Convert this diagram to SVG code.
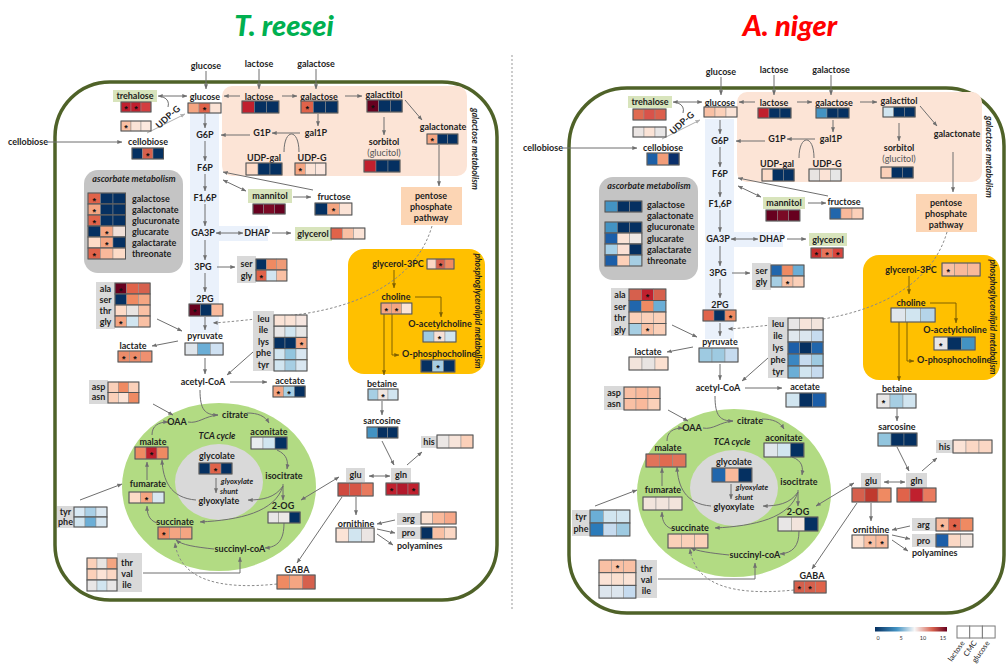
<svg xmlns="http://www.w3.org/2000/svg" width="1006" height="670" viewBox="0 0 1006 670">
<style>
.t{font-family:Lato,"Liberation Sans",sans-serif;font-weight:bold;font-size:9px;fill:#1e1e1e;text-anchor:middle}
.s{text-anchor:start}
.n{font-weight:normal;fill:#555}
.i{font-style:italic}
.sm{font-size:7.5px}
.rl{font-size:8.5px}
.c{fill:none;stroke:#6f6f6f;stroke-width:1;marker-end:url(#ah)}
.dd{marker-start:url(#ah)}
.nm{marker-end:none}
.lt{stroke:#b0b0b0;marker-end:url(#ahl)}
.ds{stroke-dasharray:2.5 2;stroke:#8a8a8a}
.b{stroke:#7f6000;marker-end:url(#ahb)}
.hm rect{stroke:#8c8c8c;stroke-width:.5}
.hm .bd{fill:none;stroke:#555;stroke-width:1}
.st{font-family:"Liberation Sans",sans-serif;font-weight:bold;font-size:9px;fill:#111;text-anchor:middle}
.gb{fill:#d9d9d9}
.gn{fill:#d8e4bc}
.mem{fill:none;stroke:#4f6228;stroke-width:3.5}
.ttl{font-family:Lato,"Liberation Sans",sans-serif;font-weight:900;font-style:italic;font-size:29px;text-anchor:middle}
.lg{font-family:Lato,"Liberation Sans",sans-serif;font-size:5.5px;fill:#333;text-anchor:middle}
.lg2{font-family:Lato,"Liberation Sans",sans-serif;font-size:7.5px;fill:#222;text-anchor:end}
</style>
<defs>
<marker id="ah" viewBox="0 0 8 8" refX="7.5" refY="4" markerWidth="5" markerHeight="5" orient="auto-start-reverse"><path d="M0,0.8 L8,4 L0,7.2z" fill="#6f6f6f"/></marker>
<marker id="ahl" viewBox="0 0 8 8" refX="7.5" refY="4" markerWidth="5" markerHeight="5" orient="auto-start-reverse"><path d="M0,0.8 L8,4 L0,7.2z" fill="#b0b0b0"/></marker>
<marker id="ahb" viewBox="0 0 8 8" refX="7.5" refY="4" markerWidth="5" markerHeight="5" orient="auto-start-reverse"><path d="M0,0.8 L8,4 L0,7.2z" fill="#7f6000"/></marker>
<linearGradient id="cb" x1="0" x2="1" y1="0" y2="0"><stop offset="0" stop-color="#053061"/><stop offset="0.3" stop-color="#4393c3"/><stop offset="0.55" stop-color="#f7f7f7"/><stop offset="0.8" stop-color="#d6604d"/><stop offset="1" stop-color="#67001f"/></linearGradient>
</defs>
<rect width="1006" height="670" fill="#fff"/>
<g id="titles"><text class="ttl" x="284" y="36" fill="#00b050">T. reesei</text><text class="ttl" x="790" y="36" fill="#ff0000">A. niger</text></g>
<g id="separator"><line x1="512" y1="55" x2="512" y2="610" stroke="#999" stroke-width="1" stroke-dasharray="2 2"/></g>

<!-- ===================== T. reesei ===================== -->
<g id="tr">
<g id="tr-membrane"><rect class="mem" x="55" y="82" width="442" height="518" rx="55"/></g>
<g id="tr-galactose-metabolism"><rect x="222" y="86" width="245" height="90" rx="10" fill="#fce4d6"/><text class="t i" transform="translate(475,149) rotate(90)" y="3">galactose metabolism</text></g>
<g id="tr-glycolysis-bg"><rect x="190" y="113" width="29" height="220" fill="#eaf1fb"/><rect x="219" y="226" width="49" height="15" fill="#eaf1fb"/></g>
<g id="tr-phospholipid"><rect x="348" y="249" width="137" height="125" rx="16" fill="#ffc000"/><text class="t i rl" transform="translate(478,311) rotate(90)" y="3">phosphoglycerolipid metabolism</text></g>
<g id="tr-tca"><ellipse cx="219" cy="487" rx="97" ry="84" fill="#b2db83"/><ellipse cx="219" cy="482" rx="44" ry="38" fill="#d9d9d9"/><text class="t i" x="217" y="439">TCA cycle</text><text class="t i sm" x="237" y="484">glyoxylate</text><text class="t i sm" x="229" y="494">shunt</text></g>
<g id="tr-ascorbate"><rect x="84" y="170" width="99" height="103" rx="14" fill="#c4c4c4"/><text class="t i" x="134" y="182.3">ascorbate metabolism</text>
<g class="hm" transform="translate(88,193)"><rect width="12.5" height="11" fill="#e0634a"/><rect x="12.5" width="12.5" height="11" fill="#053061"/><rect x="25" width="12.5" height="11" fill="#053061"/><rect class="bd" width="37.5" height="11"/><text class="st" x="6.25" y="10.5">*</text></g>
<g class="hm" transform="translate(88,204)"><rect width="12.5" height="11" fill="#f4a582"/><rect x="12.5" width="12.5" height="11" fill="#053061"/><rect x="25" width="12.5" height="11" fill="#053061"/><rect class="bd" width="37.5" height="11"/><text class="st" x="6.25" y="10.5">*</text></g>
<g class="hm" transform="translate(88,215)"><rect width="12.5" height="11" fill="#e0634a"/><rect x="12.5" width="12.5" height="11" fill="#053061"/><rect x="25" width="12.5" height="11" fill="#053061"/><rect class="bd" width="37.5" height="11"/><text class="st" x="6.25" y="10.5">*</text></g>
<g class="hm" transform="translate(88,226)"><rect width="12.5" height="11" fill="#053061"/><rect x="12.5" width="12.5" height="11" fill="#f4a582"/><rect x="25" width="12.5" height="11" fill="#f0e0d8"/><rect class="bd" width="37.5" height="11"/><text class="st" x="18.75" y="10.5">*</text></g>
<g class="hm" transform="translate(88,237)"><rect width="12.5" height="11" fill="#fddbc7"/><rect x="12.5" width="12.5" height="11" fill="#f4a582"/><rect x="25" width="12.5" height="11" fill="#053061"/><rect class="bd" width="37.5" height="11"/><text class="st" x="18.75" y="10.5">*</text></g>
<g class="hm" transform="translate(88,248)"><rect width="12.5" height="11" fill="#e0634a"/><rect x="12.5" width="12.5" height="11" fill="#f9b99b"/><rect x="25" width="12.5" height="11" fill="#fddbc7"/><rect class="bd" width="37.5" height="11"/><text class="st" x="6.25" y="10.5">*</text></g>
<text class="t s" x="132" y="201.8">galactose</text><text class="t s" x="132" y="212.8">galactonate</text><text class="t s" x="132" y="223.8">glucuronate</text><text class="t s" x="132" y="234.8">glucarate</text><text class="t s" x="132" y="245.8">galactarate</text><text class="t s" x="132" y="256.8">threonate</text>
</g>

<g id="tr-connectors">
<path class="c" d="M206,71 V89"/><path class="c" d="M259,69 V89"/><path class="c" d="M316,69 V89"/>
<path class="c" d="M48,142 H122"/>
<path class="c dd" d="M158,96 H187"/>
<path class="c nm" d="M163,97 q7,3 5,10"/>
<path class="c lt" d="M147,133 L185,114"/>
<path class="c" d="M240,96 H224"/><path class="c" d="M282,96 H297"/><path class="c" d="M345,96 H362"/>
<path class="c" d="M405,100 L422,120"/><path class="c" d="M384,117 V135"/><path class="c" d="M318,114 V126"/>
<path class="c" d="M300,133 H272"/><path class="c" d="M250,135 H221"/>
<path class="c nm" d="M284,152 C284,128 299,128 299,152"/>
<path class="c" d="M205,114 V128"/><path class="c" d="M205,141 V161"/><path class="c" d="M205,174 V191"/><path class="c" d="M205,204 V226"/><path class="c" d="M205,240 V260"/><path class="c" d="M205,273 V292"/><path class="c" d="M205,317 V330"/><path class="c" d="M205,358 V374"/>
<path class="c dd" d="M223,180 L246,191"/><path class="c" d="M313,190 L223,172"/>
<path class="c" d="M293,197 H311"/><path class="c" d="M439,145 V186"/>
<path class="c dd" d="M216,233 H243"/><path class="c" d="M272,233 H291"/><path class="c" d="M217,267 H235"/>
<path class="c" d="M157,319 L182,331"/><path class="c" d="M178,341 L152,346"/>
<path class="c" d="M230,382 H267"/><path class="c" d="M253,352 L227,375"/>
<path class="c ds" d="M432,226 C415,285 350,310 285,316 C255,319 230,322 213,323"/>
<path class="c b" d="M394,270 V288"/><path class="c b" d="M415,297 H441 V317"/><path class="c b" d="M392,314 V355 H399"/><path class="c b" d="M384,314 V375"/>
<path class="c" d="M382,401 V415"/><path class="c" d="M382,441 L394,465"/><path class="c" d="M407,465 L422,452"/>
<path class="c dd" d="M369,476 H390"/><path class="c dd" d="M339,477 L301,500"/><path class="c" d="M342,497 L297,563"/>
<path class="c" d="M356,497 V515"/><path class="c" d="M395,520 L377,524"/><path class="c" d="M377,529 L395,533"/><path class="c" d="M377,534 L393,545"/>
<path class="c" d="M153,404 L173,415"/>
<path class="c" d="M200,390 C200,410 205,415 218,415"/><path class="c nm" d="M188,422 C198,424 205,416 218,415"/>
<path class="c" d="M247,413 C258,413 265,416 269,423"/><path class="c" d="M277,450 C288,455 288,462 287,469"/>
<path class="c" d="M283,484 V500"/><path class="c" d="M283,486 C275,498 262,500 248,500"/><path class="c" d="M283,486 C275,512 240,520 200,522"/>
<path class="c" d="M284,523 C284,540 278,547 265,548"/><path class="c" d="M214,549 C195,547 182,545 176,540"/>
<path class="c" d="M143,573 H240 V557"/>
<path class="c ds" d="M277,584 C220,590 180,580 175,543"/>
<path class="c" d="M196,500 C170,498 163,480 162,460"/><path class="c" d="M216,478 V493"/>
<path class="c" d="M152,435 C152,426 158,422 168,422"/><path class="c" d="M147,480 V462"/>
<path class="c" d="M157,523 C148,520 147,512 147,506"/><path class="c" d="M80,500 L122,484"/>
</g>

<g id="tr-glucose-ext"><text class="t" x="206" y="68.5">glucose</text></g>
<g id="tr-lactose-ext"><text class="t" x="259" y="66.5">lactose</text></g>
<g id="tr-galactose-ext"><text class="t" x="316" y="66.5">galactose</text></g>
<g id="tr-cellobiose-ext"><text class="t" x="28" y="145.3">cellobiose</text></g>
<g id="tr-glucose"><text class="t" x="205" y="99.5">glucose</text><g class="hm" transform="translate(188,103)"><rect width="11" height="10" fill="#f4a582"/><rect x="11" width="11" height="10" fill="#e0634a"/><rect x="22" width="11" height="10" fill="#fbe3d6"/><rect class="bd" width="33" height="10"/><text class="st" x="16.5" y="10">*</text></g></g>
<g id="tr-trehalose"><rect class="gn" x="113" y="90" width="44" height="12"/><text class="t" x="135" y="99.3">trehalose</text>
<g class="hm" transform="translate(121,102)"><rect width="10" height="10" fill="#c0202e"/><rect x="10" width="10" height="10" fill="#c0202e"/><rect x="20" width="10" height="10" fill="#d33d40"/><rect class="bd" width="30" height="10"/><text class="st" x="5" y="10">*</text><text class="st" x="15" y="10">*</text></g>
<g class="hm" transform="translate(121,121)"><rect width="10" height="10" fill="#f9c0a4"/><rect x="10" width="10" height="10" fill="#fbe3d6"/><rect x="20" width="10" height="10" fill="#fde9df"/><rect class="bd" width="30" height="10"/><text class="st" x="5" y="10">*</text></g>
<text class="t" transform="translate(168,117) rotate(-42)" y="3">UDP-G</text></g>
<g id="tr-cellobiose"><text class="t" x="148" y="145.3">cellobiose</text><g class="hm" transform="translate(132,148)"><rect width="10.5" height="11" fill="#053061"/><rect x="10.5" width="10.5" height="11" fill="#d6604d"/><rect x="21" width="10.5" height="11" fill="#053061"/><rect class="bd" width="31.5" height="11"/><text class="st" x="15.75" y="10.5">*</text></g></g>
<g id="tr-G6P"><text class="t" x="205" y="138.3">G6P</text></g>
<g id="tr-F6P"><text class="t" x="205" y="171.3">F6P</text></g>
<g id="tr-F16P"><text class="t" x="205" y="201.3">F1,6P</text></g>
<g id="tr-GA3P"><text class="t" x="203" y="236.3">GA3P</text></g>
<g id="tr-DHAP"><text class="t" x="257" y="236.3">DHAP</text></g>
<g id="tr-3PG"><text class="t" x="203" y="270.3">3PG</text></g>
<g id="tr-2PG"><text class="t" x="205" y="302.3">2PG</text><g class="hm" transform="translate(189,304)"><rect width="11.3" height="12" fill="#67001f"/><rect x="11.3" width="11.3" height="12" fill="#053061"/><rect x="22.6" width="11.3" height="12" fill="#f9b99b"/><rect class="bd" width="33.9" height="12"/><text class="st" x="5.65" y="11">*</text></g></g>
<g id="tr-lactose"><text class="t" x="259" y="100">lactose</text><g class="hm" transform="translate(242,101)"><rect width="12.3" height="12" fill="#c0202e"/><rect x="12.3" width="12.3" height="12" fill="#053061"/><rect x="24.6" width="12.3" height="12" fill="#053061"/><rect class="bd" width="36.9" height="12"/></g></g>
<g id="tr-galactose"><text class="t" x="319" y="100">galactose</text><g class="hm" transform="translate(301,101)"><rect width="12.3" height="12" fill="#e0634a"/><rect x="12.3" width="12.3" height="12" fill="#053061"/><rect x="24.6" width="12.3" height="12" fill="#053061"/><rect class="bd" width="36.9" height="12"/><text class="st" x="6.15" y="11">*</text></g></g>
<g id="tr-galactitol"><text class="t" x="384" y="98.3">galactitol</text><g class="hm" transform="translate(367,100)"><rect width="11.7" height="12" fill="#67001f"/><rect x="11.7" width="11.7" height="12" fill="#053061"/><rect x="23.4" width="11.7" height="12" fill="#053061"/><rect class="bd" width="35.1" height="12"/><text class="st" x="5.85" y="11">*</text></g></g>
<g id="tr-galactonate"><text class="t" x="443" y="130.3">galactonate</text><g class="hm" transform="translate(427,134)"><rect width="10.3" height="10" fill="#f4a582"/><rect x="10.3" width="10.3" height="10" fill="#053061"/><rect x="20.6" width="10.3" height="10" fill="#053061"/><rect class="bd" width="30.9" height="10"/><text class="st" x="5.15" y="10">*</text></g></g>
<g id="tr-sorbitol"><text class="t" x="384" y="145.3">sorbitol</text><text class="t n" x="384" y="156.3">(glucitol)</text><g class="hm" transform="translate(364,160)"><rect width="12" height="12" fill="#c0202e"/><rect x="12" width="12" height="12" fill="#053061"/><rect x="24" width="12" height="12" fill="#053061"/><rect class="bd" width="36" height="12"/></g></g>
<g id="tr-gal1P"><text class="t" x="316" y="136.3">gal1P</text></g>
<g id="tr-G1P"><text class="t" x="262" y="136.3">G1P</text></g>
<g id="tr-UDPgal"><text class="t" x="264" y="161.3">UDP-gal</text><g class="hm" transform="translate(246,163)"><rect width="12" height="12" fill="#fddbc7"/><rect x="12" width="12" height="12" fill="#053061"/><rect x="24" width="12" height="12" fill="#053061"/><rect class="bd" width="36" height="12"/></g></g>
<g id="tr-UDPG"><text class="t" x="312" y="161.3">UDP-G</text><g class="hm" transform="translate(295,163)"><rect width="10.3" height="12" fill="#f4a582"/><rect x="10.3" width="10.3" height="12" fill="#fbe3d6"/><rect x="20.6" width="10.3" height="12" fill="#fbe6dd"/><rect class="bd" width="30.9" height="12"/><text class="st" x="5.15" y="11">*</text></g></g>
<g id="tr-mannitol"><rect class="gn" x="248" y="189" width="44" height="14"/><text class="t" x="270" y="199.3">mannitol</text><g class="hm" transform="translate(253,204)"><rect width="10.7" height="10" fill="#67001f"/><rect x="10.7" width="10.7" height="10" fill="#7a0a25"/><rect x="21.4" width="10.7" height="10" fill="#67001f"/><rect class="bd" width="32.1" height="10"/></g></g>
<g id="tr-fructose"><text class="t" x="334" y="200.3">fructose</text><g class="hm" transform="translate(315,203)"><rect width="12.3" height="12" fill="#053061"/><rect x="12.3" width="12.3" height="12" fill="#f4a582"/><rect x="24.6" width="12.3" height="12" fill="#fbe3d6"/><rect class="bd" width="36.9" height="12"/><text class="st" x="18.45" y="11">*</text></g></g>
<g id="tr-pentose"><rect x="401" y="187" width="61" height="38" fill="#fcd5b4"/><text class="t" x="431" y="199.3">pentose</text><text class="t" x="431" y="210.3">phosphate</text><text class="t" x="431" y="221.3">pathway</text></g>
<g id="tr-glycerol"><rect class="gn" x="295" y="227" width="37" height="14"/><text class="t" x="313" y="237.3">glycerol</text><g class="hm" transform="translate(331,228)"><rect width="11.3" height="11" fill="#e0634a"/><rect x="11.3" width="11.3" height="11" fill="#f9c0a4"/><rect x="22.6" width="11.3" height="11" fill="#fbe3d6"/><rect class="bd" width="33.9" height="11"/></g></g>
<g id="tr-sergly"><rect class="gb" x="237" y="256" width="19" height="27"/><text class="t" x="246.5" y="267.3">ser</text><text class="t" x="246.5" y="279.3">gly</text>
<g class="hm" transform="translate(256,259)"><rect width="10.3" height="11" fill="#053061"/><rect x="10.3" width="10.3" height="11" fill="#ef8a62"/><rect x="20.6" width="10.3" height="11" fill="#ef9a76"/><rect class="bd" width="30.9" height="11"/></g>
<g class="hm" transform="translate(256,270)"><rect width="10.3" height="11" fill="#e0634a"/><rect x="10.3" width="10.3" height="11" fill="#d1e5f0"/><rect x="20.6" width="10.3" height="11" fill="#f9c0a4"/><rect class="bd" width="30.9" height="11"/><text class="st" x="5.15" y="10.5">*</text></g></g>
<g id="tr-alaserthrgly"><rect class="gb" x="96" y="282" width="19" height="47"/><text class="t" x="105.5" y="291.8">ala</text><text class="t" x="105.5" y="302.8">ser</text><text class="t" x="105.5" y="313.8">thr</text><text class="t" x="105.5" y="324.8">gly</text>
<g class="hm" transform="translate(115,283)"><rect width="11.7" height="11" fill="#67001f"/><rect x="11.7" width="11.7" height="11" fill="#e0634a"/><rect x="23.4" width="11.7" height="11" fill="#d6604d"/><rect class="bd" width="35.1" height="11"/><text class="st" x="5.85" y="10.5">*</text></g>
<g class="hm" transform="translate(115,294)"><rect width="11.7" height="11" fill="#053061"/><rect x="11.7" width="11.7" height="11" fill="#ef8a62"/><rect x="23.4" width="11.7" height="11" fill="#f4a582"/><rect class="bd" width="35.1" height="11"/></g>
<g class="hm" transform="translate(115,305)"><rect width="11.7" height="11" fill="#fddbc7"/><rect x="11.7" width="11.7" height="11" fill="#e8e4e2"/><rect x="23.4" width="11.7" height="11" fill="#f9c0a4"/><rect class="bd" width="35.1" height="11"/></g>
<g class="hm" transform="translate(115,316)"><rect width="11.7" height="11" fill="#f4a582"/><rect x="11.7" width="11.7" height="11" fill="#d1e5f0"/><rect x="23.4" width="11.7" height="11" fill="#f9c0a4"/><rect class="bd" width="35.1" height="11"/><text class="st" x="5.85" y="10.5">*</text></g></g>
<g id="tr-pyruvate"><text class="t" x="205" y="339.3">pyruvate</text><g class="hm" transform="translate(185,343)"><rect width="12.7" height="12" fill="#dfe5eb"/><rect x="12.7" width="12.7" height="12" fill="#6baed6"/><rect x="25.4" width="12.7" height="12" fill="#cfe1f2"/><rect class="bd" width="38.1" height="12"/></g></g>
<g id="tr-lactate"><text class="t" x="133" y="349.3">lactate</text><g class="hm" transform="translate(118,351)"><rect width="11.3" height="11" fill="#ec8c6a"/><rect x="11.3" width="11.3" height="11" fill="#ec8c6a"/><rect x="22.6" width="11.3" height="11" fill="#ef9070"/><rect class="bd" width="33.9" height="11"/><text class="st" x="5.65" y="10.5">*</text><text class="st" x="16.95" y="10.5">*</text></g></g>
<g id="tr-acetylCoA"><text class="t" x="203" y="385.3">acetyl-CoA</text></g>
<g id="tr-acetate"><text class="t" x="290" y="384.3">acetate</text><g class="hm" transform="translate(273,386)"><rect width="10.7" height="11" fill="#f4a582"/><rect x="10.7" width="10.7" height="11" fill="#a6cee3"/><rect x="21.4" width="10.7" height="11" fill="#053061"/><rect class="bd" width="32.1" height="11"/><text class="st" x="5.35" y="10.5">*</text><text class="st" x="16.05" y="10.5">*</text></g></g>
<g id="tr-leu"><rect class="gb" x="253" y="311" width="21" height="60"/><text class="t" x="263.5" y="322.3">leu</text><text class="t" x="263.5" y="333.3">ile</text><text class="t" x="263.5" y="345.3">lys</text><text class="t" x="263.5" y="356.3">phe</text><text class="t" x="263.5" y="368.3">tyr</text>
<g class="hm" transform="translate(274,315)"><rect width="11" height="11.2" fill="#fbe3d6"/><rect x="11" width="11" height="11.2" fill="#fbe3d6"/><rect x="22" width="11" height="11.2" fill="#f6e6e0"/><rect class="bd" width="33" height="11.2"/></g>
<g class="hm" transform="translate(274,326.2)"><rect width="11" height="11.2" fill="#e8e6e6"/><rect x="11" width="11" height="11.2" fill="#d1e5f0"/><rect x="22" width="11" height="11.2" fill="#e6e6e6"/><rect class="bd" width="33" height="11.2"/></g>
<g class="hm" transform="translate(274,337.4)"><rect width="11" height="11.2" fill="#053061"/><rect x="11" width="11" height="11.2" fill="#053061"/><rect x="22" width="11" height="11.2" fill="#f4a582"/><rect class="bd" width="33" height="11.2"/><text class="st" x="27.5" y="10.6">*</text></g>
<g class="hm" transform="translate(274,348.6)"><rect width="11" height="11.2" fill="#d1e5f0"/><rect x="11" width="11" height="11.2" fill="#92c5de"/><rect x="22" width="11" height="11.2" fill="#d9e7f1"/><rect class="bd" width="33" height="11.2"/></g>
<g class="hm" transform="translate(274,359.8)"><rect width="11" height="11.2" fill="#d1e5f0"/><rect x="11" width="11" height="11.2" fill="#a6cee3"/><rect x="22" width="11" height="11.2" fill="#d9e7f1"/><rect class="bd" width="33" height="11.2"/></g></g>
<g id="tr-glycerol3PC"><text class="t" x="398" y="267.3">glycerol-3PC</text><g class="hm" transform="translate(427,259)"><rect width="9" height="10" fill="#fbd7c4"/><rect x="9" width="9" height="10" fill="#d6604d"/><rect x="18" width="9" height="10" fill="#ef8a62"/><rect class="bd" width="27" height="10"/><text class="st" x="13.5" y="10">*</text></g></g>
<g id="tr-choline"><text class="t" x="396" y="300.3">choline</text><g class="hm" transform="translate(381,303)"><rect width="10.3" height="11" fill="#f4a582"/><rect x="10.3" width="10.3" height="11" fill="#f4a582"/><rect x="20.6" width="10.3" height="11" fill="#fbe3d6"/><rect class="bd" width="30.9" height="11"/><text class="st" x="5.15" y="10.5">*</text><text class="st" x="15.45" y="10.5">*</text></g></g>
<g id="tr-Oacetylcholine"><text class="t" x="440" y="327.3">O-acetylcholine</text><g class="hm" transform="translate(423,331)"><rect width="11" height="11" fill="#9ecae1"/><rect x="11" width="11" height="11" fill="#f7e0d6"/><rect x="22" width="11" height="11" fill="#d1e5f0"/><rect class="bd" width="33" height="11"/><text class="st" x="16.5" y="10.5">*</text></g></g>
<g id="tr-Ophosphocholine"><text class="t s" x="402" y="357.3">O-phosphocholine</text><g class="hm" transform="translate(421,360)"><rect width="11.3" height="12" fill="#053061"/><rect x="11.3" width="11.3" height="12" fill="#a6cee3"/><rect x="22.6" width="11.3" height="12" fill="#053061"/><rect class="bd" width="33.9" height="12"/><text class="st" x="16.95" y="11">*</text></g></g>
<g id="tr-betaine"><text class="t" x="382" y="387.3">betaine</text><g class="hm" transform="translate(368,389)"><rect width="10" height="11" fill="#a6cee3"/><rect x="10" width="10" height="11" fill="#f0e6e0"/><rect x="20" width="10" height="11" fill="#d1e5f0"/><rect class="bd" width="30" height="11"/><text class="st" x="15" y="10.5">*</text></g></g>
<g id="tr-sarcosine"><text class="t" x="382" y="424.3">sarcosine</text><g class="hm" transform="translate(367,427)"><rect width="10.3" height="11" fill="#4393c3"/><rect x="10.3" width="10.3" height="11" fill="#053061"/><rect x="20.6" width="10.3" height="11" fill="#053061"/><rect class="bd" width="30.9" height="11"/></g></g>
<g id="tr-gln"><rect class="gb" x="391" y="468" width="20" height="14"/><text class="t" x="401" y="478.3">gln</text><g class="hm" transform="translate(386,483)"><rect width="11" height="12" fill="#c0202e"/><rect x="11" width="11" height="12" fill="#b2182b"/><rect x="22" width="11" height="12" fill="#c0202e"/><rect class="bd" width="33" height="12"/><text class="st" x="5.5" y="11">*</text><text class="st" x="27.5" y="11">*</text></g></g>
<g id="tr-his"><rect class="gb" x="421" y="436" width="16" height="12"/><text class="t" x="429" y="445.3">his</text><g class="hm" transform="translate(437,435)"><rect width="12" height="13" fill="#ebe7e5"/><rect x="12" width="12" height="13" fill="#f7e4da"/><rect x="24" width="12" height="13" fill="#fbd0b9"/><rect class="bd" width="36" height="13"/></g></g>
<g id="tr-glu"><rect class="gb" x="346" y="468" width="19" height="14"/><text class="t" x="355.5" y="478.3">glu</text><g class="hm" transform="translate(338,483)"><rect width="11.7" height="13" fill="#d04a40"/><rect x="11.7" width="11.7" height="13" fill="#d65545"/><rect x="23.4" width="11.7" height="13" fill="#e87a5e"/><rect class="bd" width="35.1" height="13"/></g></g>
<g id="tr-ornithine"><text class="t" x="356" y="527">ornithine</text><g class="hm" transform="translate(336,528)"><rect width="12.7" height="14" fill="#fbe3d6"/><rect x="12.7" width="12.7" height="14" fill="#d1e5f0"/><rect x="25.4" width="12.7" height="14" fill="#ebe5e3"/><rect class="bd" width="38.1" height="14"/></g></g>
<g id="tr-arg"><rect class="gb" x="397" y="513" width="24" height="12"/><text class="t" x="408.5" y="522.3">arg</text><g class="hm" transform="translate(421,512)"><rect width="11.7" height="12" fill="#fbe0d0"/><rect x="11.7" width="11.7" height="12" fill="#f9b99b"/><rect x="23.4" width="11.7" height="12" fill="#f7a889"/><rect class="bd" width="35.1" height="12"/></g></g>
<g id="tr-pro"><rect class="gb" x="397" y="527" width="24" height="12"/><text class="t" x="408.5" y="536.3">pro</text><g class="hm" transform="translate(421,527)"><rect width="11.7" height="12" fill="#053061"/><rect x="11.7" width="11.7" height="12" fill="#f9c0a4"/><rect x="23.4" width="11.7" height="12" fill="#fbd7c4"/><rect class="bd" width="35.1" height="12"/></g></g>
<g id="tr-polyamines"><text class="t s" x="397" y="549.3">polyamines</text></g>
<g id="tr-GABA"><text class="t" x="297" y="573.3">GABA</text><g class="hm" transform="translate(277,575)"><rect width="12.7" height="14" fill="#ef8a62"/><rect x="12.7" width="12.7" height="14" fill="#f4a582"/><rect x="25.4" width="12.7" height="14" fill="#d6604d"/><rect class="bd" width="38.1" height="14"/></g></g>
<g id="tr-OAA"><text class="t" x="177" y="425.3">OAA</text></g>
<g id="tr-citrate"><text class="t" x="235" y="418.3">citrate</text></g>
<g id="tr-aconitate"><text class="t" x="269" y="435.3">aconitate</text><g class="hm" transform="translate(251,437)"><rect width="12" height="12" fill="#e8ecef"/><rect x="12" width="12" height="12" fill="#d1e5f0"/><rect x="24" width="12" height="12" fill="#053061"/><rect class="bd" width="36" height="12"/></g></g>
<g id="tr-isocitrate"><text class="t" x="284" y="479.3">isocitrate</text></g>
<g id="tr-2OG"><text class="t" x="283" y="509.3">2-OG</text><g class="hm" transform="translate(268,512)"><rect width="10.7" height="11" fill="#e8e6e6"/><rect x="10.7" width="10.7" height="11" fill="#ece8e6"/><rect x="21.4" width="10.7" height="11" fill="#053061"/><rect class="bd" width="32.1" height="11"/></g></g>
<g id="tr-succinylcoA"><text class="t" x="240" y="552.3">succinyl-coA</text></g>
<g id="tr-succinate"><text class="t" x="175" y="525.3">succinate</text><g class="hm" transform="translate(158,527)"><rect width="11.3" height="12" fill="#ef8a62"/><rect x="11.3" width="11.3" height="12" fill="#f4a582"/><rect x="22.6" width="11.3" height="12" fill="#f4a582"/><rect class="bd" width="33.9" height="12"/><text class="st" x="5.65" y="11">*</text></g></g>
<g id="tr-fumarate"><text class="t" x="148" y="487.3">fumarate</text><g class="hm" transform="translate(129,492)"><rect width="11.7" height="11" fill="#fddbc7"/><rect x="11.7" width="11.7" height="11" fill="#f4a582"/><rect x="23.4" width="11.7" height="11" fill="#d9e7f1"/><rect class="bd" width="35.1" height="11"/><text class="st" x="17.55" y="10.5">*</text></g></g>
<g id="tr-malate"><text class="t" x="153" y="445.3">malate</text><g class="hm" transform="translate(135,447)"><rect width="11" height="12" fill="#ef8a62"/><rect x="11" width="11" height="12" fill="#c0202e"/><rect x="22" width="11" height="12" fill="#ef8a62"/><rect class="bd" width="33" height="12"/><text class="st" x="16.5" y="11">*</text></g></g>
<g id="tr-glycolate"><text class="t" x="217" y="459.3">glycolate</text><g class="hm" transform="translate(199,463)"><rect width="11" height="11" fill="#053061"/><rect x="11" width="11" height="11" fill="#e0634a"/><rect x="22" width="11" height="11" fill="#053061"/><rect class="bd" width="33" height="11"/><text class="st" x="16.5" y="10.5">*</text></g></g>
<g id="tr-glyoxylate"><text class="t" x="219" y="504.3">glyoxylate</text></g>
<g id="tr-aspasn"><rect class="gb" x="89" y="380" width="19" height="24"/><text class="t" x="98.5" y="389.8">asp</text><text class="t" x="98.5" y="400.3">asn</text>
<g class="hm" transform="translate(108,382)"><rect width="10.3" height="10.5" fill="#fbd0b9"/><rect x="10.3" width="10.3" height="10.5" fill="#ef8a62"/><rect x="20.6" width="10.3" height="10.5" fill="#fbd0b9"/><rect class="bd" width="30.9" height="10.5"/></g>
<g class="hm" transform="translate(108,392.5)"><rect width="10.3" height="10.5" fill="#fbd0b9"/><rect x="10.3" width="10.3" height="10.5" fill="#fbe3d6"/><rect x="20.6" width="10.3" height="10.5" fill="#ef8a62"/><rect class="bd" width="30.9" height="10.5"/></g></g>
<g id="tr-tyrphe"><rect class="gb" x="57" y="506" width="17" height="22"/><text class="t" x="65.5" y="515.3">tyr</text><text class="t" x="65.5" y="525.3">phe</text>
<g class="hm" transform="translate(74,507)"><rect width="11" height="10" fill="#d9e9f4"/><rect x="11" width="11" height="10" fill="#a9cfe6"/><rect x="22" width="11" height="10" fill="#dce8f1"/><rect class="bd" width="33" height="10"/></g>
<g class="hm" transform="translate(74,517)"><rect width="11" height="10" fill="#d1e5f0"/><rect x="11" width="11" height="10" fill="#6baed6"/><rect x="22" width="11" height="10" fill="#d6e6f1"/><rect class="bd" width="33" height="10"/></g></g>
<g id="tr-thrvalile"><rect class="gb" x="117" y="553" width="25" height="39"/><text class="t" x="127" y="566">thr</text><text class="t" x="127" y="577">val</text><text class="t" x="127" y="588">ile</text>
<g class="hm" transform="translate(87,558)"><rect width="10" height="11" fill="#fbd0b9"/><rect x="10" width="10" height="11" fill="#e8e4e2"/><rect x="20" width="10" height="11" fill="#f4a582"/><rect class="bd" width="30" height="11"/></g>
<g class="hm" transform="translate(87,569)"><rect width="10" height="11" fill="#fbd0b9"/><rect x="10" width="10" height="11" fill="#fbe3d6"/><rect x="20" width="10" height="11" fill="#fbd7c4"/><rect class="bd" width="30" height="11"/></g>
<g class="hm" transform="translate(87,580)"><rect width="10" height="11" fill="#e8e6e6"/><rect x="10" width="10" height="11" fill="#d1e5f0"/><rect x="20" width="10" height="11" fill="#e8e6e6"/><rect class="bd" width="30" height="11"/></g></g>
</g>

<!-- ===================== A. niger ===================== -->
<g id="an" transform="translate(515,6)">
<g id="an-membrane"><rect class="mem" x="54" y="82" width="435" height="525" rx="58"/></g>
<g id="an-galactose-metabolism"><rect x="222" y="86" width="245" height="90" rx="10" fill="#fce4d6"/><text class="t i" transform="translate(474,151) rotate(90)" y="3">galactose metabolism</text></g>
<g id="an-glycolysis-bg"><rect x="190" y="113" width="29" height="220" fill="#eaf1fb"/><rect x="219" y="226" width="49" height="15" fill="#eaf1fb"/></g>
<g id="an-phospholipid"><rect x="348" y="249" width="137" height="125" rx="16" fill="#ffc000"/><text class="t i rl" transform="translate(478,311) rotate(90)" y="3">phosphoglycerolipid metabolism</text></g>
<g id="an-tca"><ellipse cx="219" cy="487" rx="97" ry="84" fill="#b2db83"/><ellipse cx="219" cy="482" rx="44" ry="38" fill="#d9d9d9"/><text class="t i" x="217" y="439">TCA cycle</text><text class="t i sm" x="237" y="484">glyoxylate</text><text class="t i sm" x="229" y="494">shunt</text></g>
<g id="an-ascorbate"><rect x="84" y="171" width="99" height="103" rx="14" fill="#c4c4c4"/><text class="t i" x="134" y="183.3">ascorbate metabolism</text>
<g class="hm" transform="translate(90,195)"><rect width="12.3" height="11" fill="#4393c3"/><rect x="12.3" width="12.3" height="11" fill="#053061"/><rect x="24.6" width="12.3" height="11" fill="#053061"/><rect class="bd" width="36.9" height="11"/></g>
<g class="hm" transform="translate(90,216)"><rect width="12.3" height="11" fill="#4393c3"/><rect x="12.3" width="12.3" height="11" fill="#053061"/><rect x="24.6" width="12.3" height="11" fill="#053061"/><rect class="bd" width="36.9" height="11"/></g>
<g class="hm" transform="translate(90,227)"><rect width="12.3" height="11" fill="#1c5ea8"/><rect x="12.3" width="12.3" height="11" fill="#fbe3d6"/><rect x="24.6" width="12.3" height="11" fill="#eee8e4"/><rect class="bd" width="36.9" height="11"/></g>
<g class="hm" transform="translate(90,238)"><rect width="12.3" height="11" fill="#a6d0e8"/><rect x="12.3" width="12.3" height="11" fill="#fbe0d4"/><rect x="24.6" width="12.3" height="11" fill="#053061"/><rect class="bd" width="36.9" height="11"/></g>
<g class="hm" transform="translate(90,249)"><rect width="12.3" height="11" fill="#1c5ea8"/><rect x="12.3" width="12.3" height="11" fill="#fdd0b8"/><rect x="24.6" width="12.3" height="11" fill="#a6cee3"/><rect class="bd" width="36.9" height="11"/></g>
<text class="t s" x="132" y="202.3">galactose</text><text class="t s" x="132" y="213.3">galactonate</text><text class="t s" x="132" y="224.3">glucuronate</text><text class="t s" x="132" y="235.8">glucarate</text><text class="t s" x="132" y="246.8">galactarate</text><text class="t s" x="132" y="257.8">threonate</text>
</g>

<g id="an-connectors">
<path class="c" d="M206,71 V89"/><path class="c" d="M259,69 V89"/><path class="c" d="M316,69 V89"/>
<path class="c" d="M48,142 H122"/>
<path class="c dd" d="M158,96 H187"/>
<path class="c nm" d="M163,97 q7,3 5,10"/>
<path class="c lt" d="M147,133 L185,114"/>
<path class="c" d="M240,96 H224"/><path class="c" d="M282,96 H297"/><path class="c" d="M345,96 H362"/>
<path class="c" d="M405,100 L422,120"/><path class="c" d="M384,117 V135"/><path class="c" d="M318,114 V126"/>
<path class="c" d="M300,133 H272"/><path class="c" d="M250,135 H221"/>
<path class="c nm" d="M284,152 C284,128 299,128 299,152"/>
<path class="c" d="M205,114 V128"/><path class="c" d="M205,141 V161"/><path class="c" d="M205,174 V191"/><path class="c" d="M205,204 V226"/><path class="c" d="M205,240 V260"/><path class="c" d="M205,273 V292"/><path class="c" d="M205,317 V330"/><path class="c" d="M205,358 V374"/>
<path class="c dd" d="M223,180 L246,191"/><path class="c" d="M313,190 L223,172"/>
<path class="c" d="M293,197 H311"/><path class="c" d="M438,146 V186"/>
<path class="c dd" d="M216,233 H243"/><path class="c" d="M272,233 H291"/><path class="c" d="M217,267 H235"/>
<path class="c" d="M157,319 L182,331"/><path class="c" d="M178,341 L152,346"/>
<path class="c" d="M230,382 H267"/><path class="c" d="M253,352 L227,375"/>
<path class="c ds" d="M432,226 C415,285 350,310 285,316 C255,319 230,322 213,323"/>
<path class="c b" d="M394,270 V288"/><path class="c b" d="M415,297 H441 V317"/><path class="c b" d="M392,316 V355 H399"/><path class="c b" d="M384,316 V375"/>
<path class="c" d="M382,402 V415"/><path class="c" d="M382,441 L394,465"/><path class="c" d="M407,465 L422,452"/>
<path class="c dd" d="M369,476 H390"/><path class="c dd" d="M339,477 L301,500"/><path class="c" d="M342,497 L297,563"/>
<path class="c" d="M356,497 V515"/><path class="c" d="M395,520 L377,524"/><path class="c" d="M377,529 L395,533"/><path class="c" d="M377,534 L393,545"/>
<path class="c" d="M153,404 L173,415"/>
<path class="c" d="M200,390 C200,410 205,415 218,415"/><path class="c nm" d="M188,422 C198,424 205,416 218,415"/>
<path class="c" d="M247,413 C258,413 265,416 269,423"/><path class="c" d="M277,451 C288,455 288,462 287,469"/>
<path class="c" d="M283,484 V500"/><path class="c" d="M283,486 C275,498 262,500 248,500"/><path class="c" d="M283,486 C275,512 240,520 200,522"/>
<path class="c" d="M284,525 C284,540 278,547 265,548"/><path class="c" d="M214,549 C195,547 182,545 176,542"/>
<path class="c" d="M143,573 H240 V557"/>
<path class="c ds" d="M279,584 C220,590 180,580 175,543"/>
<path class="c" d="M196,500 C170,498 163,480 162,461"/><path class="c" d="M216,478 V493"/>
<path class="c" d="M152,435 C152,426 158,422 168,422"/><path class="c" d="M147,480 V462"/>
<path class="c" d="M157,523 C148,520 147,512 147,506"/><path class="c" d="M80,500 L122,484"/>
</g>

<g id="an-glucose-ext"><text class="t" x="206" y="68.5">glucose</text></g>
<g id="an-lactose-ext"><text class="t" x="259" y="66.5">lactose</text></g>
<g id="an-galactose-ext"><text class="t" x="316" y="66.5">galactose</text></g>
<g id="an-cellobiose-ext"><text class="t" x="28" y="145.3">cellobiose</text></g>
<g id="an-glucose"><text class="t" x="205" y="99.5">glucose</text><g class="hm" transform="translate(189,101)"><rect width="11" height="10" fill="#f9c0a4"/><rect x="11" width="11" height="10" fill="#fbd0b9"/><rect x="22" width="11" height="10" fill="#fbe3d6"/><rect class="bd" width="33" height="10"/></g></g>
<g id="an-trehalose"><rect class="gn" x="113" y="90" width="44" height="12"/><text class="t" x="135" y="99.3">trehalose</text>
<g class="hm" transform="translate(118,103)"><rect width="11" height="11" fill="#e06a50"/><rect x="11" width="11" height="11" fill="#d9534a"/><rect x="22" width="11" height="11" fill="#dc5f4c"/><rect class="bd" width="33" height="11"/></g>
<g class="hm" transform="translate(118,121)"><rect width="11" height="10" fill="#ebe5e3"/><rect x="11" width="11" height="10" fill="#fbe3d6"/><rect x="22" width="11" height="10" fill="#e8e6e6"/><rect class="bd" width="33" height="10"/></g>
<text class="t" transform="translate(167,117) rotate(-42)" y="3">UDP-G</text></g>
<g id="an-cellobiose"><text class="t" x="148" y="145.3">cellobiose</text><g class="hm" transform="translate(132,147)"><rect width="10.7" height="12" fill="#1d5fa6"/><rect x="10.7" width="10.7" height="12" fill="#f29d79"/><rect x="21.4" width="10.7" height="12" fill="#0b2f6b"/><rect class="bd" width="32.1" height="12"/></g></g>
<g id="an-G6P"><text class="t" x="205" y="138.3">G6P</text></g>
<g id="an-F6P"><text class="t" x="205" y="171.3">F6P</text></g>
<g id="an-F16P"><text class="t" x="205" y="201.3">F1,6P</text></g>
<g id="an-GA3P"><text class="t" x="203" y="236.3">GA3P</text></g>
<g id="an-DHAP"><text class="t" x="257" y="236.3">DHAP</text></g>
<g id="an-3PG"><text class="t" x="203" y="270.3">3PG</text></g>
<g id="an-2PG"><text class="t" x="205" y="302.3">2PG</text><g class="hm" transform="translate(188,304)"><rect width="11" height="11" fill="#e0634a"/><rect x="11" width="11" height="11" fill="#053061"/><rect x="22" width="11" height="11" fill="#ef8a62"/><rect class="bd" width="33" height="11"/><text class="st" x="27.5" y="10.5">*</text></g></g>
<g id="an-lactose"><text class="t" x="259" y="100">lactose</text><g class="hm" transform="translate(243,102)"><rect width="11" height="10" fill="#c0202e"/><rect x="11" width="11" height="10" fill="#053061"/><rect x="22" width="11" height="10" fill="#053061"/><rect class="bd" width="33" height="10"/></g></g>
<g id="an-galactose"><text class="t" x="319" y="100">galactose</text><g class="hm" transform="translate(301,102)"><rect width="11" height="10" fill="#4393c3"/><rect x="11" width="11" height="10" fill="#053061"/><rect x="22" width="11" height="10" fill="#053061"/><rect class="bd" width="33" height="10"/></g></g>
<g id="an-galactitol"><text class="t" x="384" y="98.3">galactitol</text><g class="hm" transform="translate(368,101)"><rect width="10.7" height="10" fill="#d1e5f0"/><rect x="10.7" width="10.7" height="10" fill="#053061"/><rect x="21.4" width="10.7" height="10" fill="#053061"/><rect class="bd" width="32.1" height="10"/></g></g>
<g id="an-galactonate"><text class="t" x="442" y="131.3">galactonate</text></g>
<g id="an-sorbitol"><text class="t" x="384" y="145.3">sorbitol</text><text class="t n" x="384" y="156.3">(glucitol)</text><g class="hm" transform="translate(366,161)"><rect width="10.7" height="11" fill="#fbd0b9"/><rect x="10.7" width="10.7" height="11" fill="#053061"/><rect x="21.4" width="10.7" height="11" fill="#053061"/><rect class="bd" width="32.1" height="11"/></g></g>
<g id="an-gal1P"><text class="t" x="316" y="136.3">gal1P</text></g>
<g id="an-G1P"><text class="t" x="262" y="136.3">G1P</text></g>
<g id="an-UDPgal"><text class="t" x="262" y="161.3">UDP-gal</text><g class="hm" transform="translate(247,163)"><rect width="10.7" height="12" fill="#fddbc7"/><rect x="10.7" width="10.7" height="12" fill="#053061"/><rect x="21.4" width="10.7" height="12" fill="#053061"/><rect class="bd" width="32.1" height="12"/></g></g>
<g id="an-UDPG"><text class="t" x="312" y="161.3">UDP-G</text><g class="hm" transform="translate(294,163)"><rect width="10.7" height="12" fill="#e8e4e2"/><rect x="10.7" width="10.7" height="12" fill="#fbe3d6"/><rect x="21.4" width="10.7" height="12" fill="#e6e6e6"/><rect class="bd" width="32.1" height="12"/></g></g>
<g id="an-mannitol"><rect class="gn" x="248" y="191" width="42" height="12"/><text class="t" x="269" y="200.3">mannitol</text><g class="hm" transform="translate(251,204)"><rect width="11.3" height="11" fill="#67001f"/><rect x="11.3" width="11.3" height="11" fill="#7a0a25"/><rect x="22.6" width="11.3" height="11" fill="#67001f"/><rect class="bd" width="33.9" height="11"/></g></g>
<g id="an-fructose"><text class="t" x="329" y="199.3">fructose</text><g class="hm" transform="translate(315,202)"><rect width="11" height="11" fill="#2166ac"/><rect x="11" width="11" height="11" fill="#f9b99b"/><rect x="22" width="11" height="11" fill="#fbd0b9"/><rect class="bd" width="33" height="11"/></g></g>
<g id="an-pentose"><rect x="401" y="188" width="61" height="38" fill="#fcd5b4"/><text class="t" x="431" y="200.3">pentose</text><text class="t" x="431" y="211.3">phosphate</text><text class="t" x="431" y="222.3">pathway</text></g>
<g id="an-glycerol"><rect class="gn" x="294" y="227" width="38" height="13"/><text class="t" x="313" y="236.8">glycerol</text><g class="hm" transform="translate(296,242)"><rect width="10.7" height="10" fill="#c8302e"/><rect x="10.7" width="10.7" height="10" fill="#e8735a"/><rect x="21.4" width="10.7" height="10" fill="#d9453e"/><rect class="bd" width="32.1" height="10"/><text class="st" x="5.35" y="10">*</text><text class="st" x="16.05" y="10">*</text><text class="st" x="26.75" y="10">*</text></g></g>
<g id="an-sergly"><rect class="gb" x="237" y="257" width="19" height="27"/><text class="t" x="246.5" y="267.8">ser</text><text class="t" x="246.5" y="279.3">gly</text>
<g class="hm" transform="translate(256,259)"><rect width="11" height="11" fill="#2166ac"/><rect x="11" width="11" height="11" fill="#ef8a62"/><rect x="22" width="11" height="11" fill="#6baed6"/><rect class="bd" width="33" height="11"/></g>
<g class="hm" transform="translate(256,270)"><rect width="11" height="11" fill="#a6cee3"/><rect x="11" width="11" height="11" fill="#f9c0a4"/><rect x="22" width="11" height="11" fill="#fbd0b9"/><rect class="bd" width="33" height="11"/><text class="st" x="16.5" y="10.5">*</text></g></g>
<g id="an-alaserthrgly"><rect class="gb" x="96" y="282" width="18" height="48"/><text class="t" x="105" y="292">ala</text><text class="t" x="105" y="303.5">ser</text><text class="t" x="105" y="315">thr</text><text class="t" x="105" y="326.5">gly</text>
<g class="hm" transform="translate(114,283)"><rect width="12.3" height="11.5" fill="#d6604d"/><rect x="12.3" width="12.3" height="11.5" fill="#c0202e"/><rect x="24.6" width="12.3" height="11.5" fill="#d6604d"/><rect class="bd" width="36.9" height="11.5"/><text class="st" x="18.45" y="10.75">*</text></g>
<g class="hm" transform="translate(114,294.5)"><rect width="12.3" height="11.5" fill="#2166ac"/><rect x="12.3" width="12.3" height="11.5" fill="#ef8a62"/><rect x="24.6" width="12.3" height="11.5" fill="#6baed6"/><rect class="bd" width="36.9" height="11.5"/></g>
<g class="hm" transform="translate(114,306)"><rect width="12.3" height="11.5" fill="#fbd0b9"/><rect x="12.3" width="12.3" height="11.5" fill="#fbd0b9"/><rect x="24.6" width="12.3" height="11.5" fill="#fbd0b9"/><rect class="bd" width="36.9" height="11.5"/></g>
<g class="hm" transform="translate(114,317.5)"><rect width="12.3" height="11.5" fill="#a6cee3"/><rect x="12.3" width="12.3" height="11.5" fill="#f9c0a4"/><rect x="24.6" width="12.3" height="11.5" fill="#fbd0b9"/><rect class="bd" width="36.9" height="11.5"/><text class="st" x="18.45" y="10.75">*</text></g></g>
<g id="an-pyruvate"><text class="t" x="205" y="339">pyruvate</text><g class="hm" transform="translate(184,342)"><rect width="13" height="14" fill="#9ecae1"/><rect x="13" width="13" height="14" fill="#9ecae1"/><rect x="26" width="13" height="14" fill="#c6dbef"/><rect class="bd" width="39" height="14"/></g></g>
<g id="an-lactate"><text class="t" x="133" y="349.3">lactate</text><g class="hm" transform="translate(114,351)"><rect width="13" height="13" fill="#f2e4dc"/><rect x="13" width="13" height="13" fill="#e8e4e2"/><rect x="26" width="13" height="13" fill="#fbe0d0"/><rect class="bd" width="39" height="13"/></g></g>
<g id="an-acetylCoA"><text class="t" x="203" y="385.3">acetyl-CoA</text></g>
<g id="an-acetate"><text class="t" x="290" y="384.3">acetate</text><g class="hm" transform="translate(271,387)"><rect width="13.3" height="14" fill="#d1e5f0"/><rect x="13.3" width="13.3" height="14" fill="#053061"/><rect x="26.6" width="13.3" height="14" fill="#1c5ea8"/><rect class="bd" width="39.9" height="14"/></g></g>
<g id="an-leu"><rect class="gb" x="253" y="311" width="20" height="61"/><text class="t" x="263" y="321.3">leu</text><text class="t" x="263" y="333.3">ile</text><text class="t" x="263" y="345.3">lys</text><text class="t" x="263" y="357.3">phe</text><text class="t" x="263" y="369.3">tyr</text>
<g class="hm" transform="translate(273,312)"><rect width="11.7" height="12" fill="#e8e6e6"/><rect x="11.7" width="11.7" height="12" fill="#f7e4da"/><rect x="23.4" width="11.7" height="12" fill="#f2e4dc"/><rect class="bd" width="35.1" height="12"/></g>
<g class="hm" transform="translate(273,324)"><rect width="11.7" height="12" fill="#e0e8ee"/><rect x="11.7" width="11.7" height="12" fill="#dbe6ee"/><rect x="23.4" width="11.7" height="12" fill="#c6dbef"/><rect class="bd" width="35.1" height="12"/></g>
<g class="hm" transform="translate(273,336)"><rect width="11.7" height="12" fill="#1c5ea8"/><rect x="11.7" width="11.7" height="12" fill="#053061"/><rect x="23.4" width="11.7" height="12" fill="#2166ac"/><rect class="bd" width="35.1" height="12"/></g>
<g class="hm" transform="translate(273,348)"><rect width="11.7" height="12" fill="#3a87c2"/><rect x="11.7" width="11.7" height="12" fill="#c6dbef"/><rect x="23.4" width="11.7" height="12" fill="#9ecae1"/><rect class="bd" width="35.1" height="12"/></g>
<g class="hm" transform="translate(273,360)"><rect width="11.7" height="12" fill="#6baed6"/><rect x="11.7" width="11.7" height="12" fill="#d1e5f0"/><rect x="23.4" width="11.7" height="12" fill="#c6dbef"/><rect class="bd" width="35.1" height="12"/></g></g>
<g id="an-glycerol3PC"><text class="t" x="396" y="267.3">glycerol-3PC</text><g class="hm" transform="translate(427,257)"><rect width="12.7" height="13" fill="#f9c0a4"/><rect x="12.7" width="12.7" height="13" fill="#f9b99b"/><rect x="25.4" width="12.7" height="13" fill="#f9b99b"/><rect class="bd" width="38.1" height="13"/><text class="st" x="6.35" y="11.5">*</text></g></g>
<g id="an-choline"><text class="t" x="396" y="300.3">choline</text><g class="hm" transform="translate(376,302)"><rect width="14.7" height="14" fill="#e0e6ec"/><rect x="14.7" width="14.7" height="14" fill="#d1e5f0"/><rect x="29.4" width="14.7" height="14" fill="#b5d4e9"/><rect class="bd" width="44.1" height="14"/></g></g>
<g id="an-Oacetylcholine"><text class="t" x="440" y="327.3">O-acetylcholine</text><g class="hm" transform="translate(419,331)"><rect width="13.7" height="13" fill="#e8e6e6"/><rect x="13.7" width="13.7" height="13" fill="#053061"/><rect x="27.4" width="13.7" height="13" fill="#4393c3"/><rect class="bd" width="41.1" height="13"/><text class="st" x="6.85" y="11.5">*</text></g></g>
<g id="an-Ophosphocholine"><text class="t s" x="402" y="357.3">O-phosphocholine</text></g>
<g id="an-betaine"><text class="t" x="382" y="386.3">betaine</text><g class="hm" transform="translate(362,388)"><rect width="13" height="14" fill="#e8e6e6"/><rect x="13" width="13" height="14" fill="#a6cee3"/><rect x="26" width="13" height="14" fill="#d1e5f0"/><rect class="bd" width="39" height="14"/><text class="st" x="6.5" y="12">*</text></g></g>
<g id="an-sarcosine"><text class="t" x="382" y="424.3">sarcosine</text><g class="hm" transform="translate(363,427)"><rect width="13" height="13" fill="#92c5de"/><rect x="13" width="13" height="13" fill="#053061"/><rect x="26" width="13" height="13" fill="#053061"/><rect class="bd" width="39" height="13"/></g></g>
<g id="an-gln"><rect class="gb" x="391" y="467" width="21" height="15"/><text class="t" x="401.5" y="478.3">gln</text><g class="hm" transform="translate(382,482)"><rect width="13" height="14" fill="#e0634a"/><rect x="13" width="13" height="14" fill="#c0202e"/><rect x="26" width="13" height="14" fill="#e97a5e"/><rect class="bd" width="39" height="14"/></g></g>
<g id="an-his"><rect class="gb" x="421" y="434" width="17" height="13"/><text class="t" x="429.5" y="443.8">his</text><g class="hm" transform="translate(438,434)"><rect width="13" height="13" fill="#fbe3d6"/><rect x="13" width="13" height="13" fill="#fbd7c4"/><rect x="26" width="13" height="13" fill="#fbd7c4"/><rect class="bd" width="39" height="13"/></g></g>
<g id="an-glu"><rect class="gb" x="346" y="467" width="20" height="15"/><text class="t" x="356" y="478.3">glu</text><g class="hm" transform="translate(337,482)"><rect width="13" height="14" fill="#d6604d"/><rect x="13" width="13" height="14" fill="#c0392e"/><rect x="26" width="13" height="14" fill="#ef8a62"/><rect class="bd" width="39" height="14"/></g></g>
<g id="an-ornithine"><text class="t" x="356" y="527">ornithine</text><g class="hm" transform="translate(337,529)"><rect width="12" height="13" fill="#fbe0d0"/><rect x="12" width="12" height="13" fill="#f9c0a4"/><rect x="24" width="12" height="13" fill="#f9b99b"/><rect class="bd" width="36" height="13"/><text class="st" x="18" y="11.5">*</text><text class="st" x="30" y="11.5">*</text></g></g>
<g id="an-arg"><rect class="gb" x="397" y="512" width="24" height="13"/><text class="t" x="408.5" y="521.8">arg</text><g class="hm" transform="translate(421,512)"><rect width="12.3" height="13" fill="#f9b99b"/><rect x="12.3" width="12.3" height="13" fill="#e0634a"/><rect x="24.6" width="12.3" height="13" fill="#ef8a62"/><rect class="bd" width="36.9" height="13"/><text class="st" x="6.15" y="11.5">*</text><text class="st" x="18.45" y="11.5">*</text></g></g>
<g id="an-pro"><rect class="gb" x="397" y="528" width="24" height="13"/><text class="t" x="408.5" y="537.8">pro</text><g class="hm" transform="translate(421,528)"><rect width="12.3" height="13" fill="#1c5ea8"/><rect x="12.3" width="12.3" height="13" fill="#fbd7c4"/><rect x="24.6" width="12.3" height="13" fill="#f2e4dc"/><rect class="bd" width="36.9" height="13"/></g></g>
<g id="an-polyamines"><text class="t s" x="397" y="550.3">polyamines</text></g>
<g id="an-GABA"><text class="t" x="297" y="573.3">GABA</text><g class="hm" transform="translate(279,575)"><rect width="10.7" height="12" fill="#d6604d"/><rect x="10.7" width="10.7" height="12" fill="#d6604d"/><rect x="21.4" width="10.7" height="12" fill="#e0634a"/><rect class="bd" width="32.1" height="12"/><text class="st" x="5.35" y="11">*</text><text class="st" x="16.05" y="11">*</text></g></g>
<g id="an-OAA"><text class="t" x="177" y="425.3">OAA</text></g>
<g id="an-citrate"><text class="t" x="235" y="418.3">citrate</text></g>
<g id="an-aconitate"><text class="t" x="269" y="435.3">aconitate</text><g class="hm" transform="translate(249,437)"><rect width="13.3" height="14" fill="#e0e6ec"/><rect x="13.3" width="13.3" height="14" fill="#d1e5f0"/><rect x="26.6" width="13.3" height="14" fill="#053061"/><rect class="bd" width="39.9" height="14"/></g></g>
<g id="an-isocitrate"><text class="t" x="284" y="479.3">isocitrate</text></g>
<g id="an-2OG"><text class="t" x="283" y="509.3">2-OG</text><g class="hm" transform="translate(263,511)"><rect width="13.3" height="14" fill="#e8e6e6"/><rect x="13.3" width="13.3" height="14" fill="#f2e4dc"/><rect x="26.6" width="13.3" height="14" fill="#053061"/><rect class="bd" width="39.9" height="14"/></g></g>
<g id="an-succinylcoA"><text class="t" x="240" y="552.3">succinyl-coA</text></g>
<g id="an-succinate"><text class="t" x="175" y="525.3">succinate</text><g class="hm" transform="translate(153,528)"><rect width="13.3" height="14" fill="#fbd0b9"/><rect x="13.3" width="13.3" height="14" fill="#fbd0b9"/><rect x="26.6" width="13.3" height="14" fill="#fbd0b9"/><rect class="bd" width="39.9" height="14"/></g></g>
<g id="an-fumarate"><text class="t" x="148" y="487.3">fumarate</text><g class="hm" transform="translate(128,491)"><rect width="13" height="13" fill="#f2e4dc"/><rect x="13" width="13" height="13" fill="#f2e4dc"/><rect x="26" width="13" height="13" fill="#f2e4dc"/><rect class="bd" width="39" height="13"/></g></g>
<g id="an-malate"><text class="t" x="153" y="445.3">malate</text><g class="hm" transform="translate(131,448)"><rect width="13.3" height="13" fill="#e0735a"/><rect x="13.3" width="13.3" height="13" fill="#e06a50"/><rect x="26.6" width="13.3" height="13" fill="#e0735a"/><rect class="bd" width="39.9" height="13"/></g></g>
<g id="an-glycolate"><text class="t" x="219" y="459.3">glycolate</text><g class="hm" transform="translate(197,462)"><rect width="13.3" height="14" fill="#2166ac"/><rect x="13.3" width="13.3" height="14" fill="#f9b99b"/><rect x="26.6" width="13.3" height="14" fill="#053061"/><rect class="bd" width="39.9" height="14"/></g></g>
<g id="an-glyoxylate"><text class="t" x="219" y="504.3">glyoxylate</text></g>
<g id="an-aspasn"><rect class="gb" x="89" y="380" width="20" height="24"/><text class="t" x="99" y="389.8">asp</text><text class="t" x="99" y="400.8">asn</text>
<g class="hm" transform="translate(109,381)"><rect width="12" height="11.5" fill="#f9c0a4"/><rect x="12" width="12" height="11.5" fill="#f9b99b"/><rect x="24" width="12" height="11.5" fill="#f9c0a4"/><rect class="bd" width="36" height="11.5"/></g>
<g class="hm" transform="translate(109,392.5)"><rect width="12" height="11.5" fill="#f9c0a4"/><rect x="12" width="12" height="11.5" fill="#f9b99b"/><rect x="24" width="12" height="11.5" fill="#fbd0b9"/><rect class="bd" width="36" height="11.5"/></g></g>
<g id="an-tyrphe"><rect class="gb" x="57" y="504" width="18" height="26"/><text class="t" x="66" y="514">tyr</text><text class="t" x="66" y="526">phe</text>
<g class="hm" transform="translate(75,504)"><rect width="13.3" height="13" fill="#6baed6"/><rect x="13.3" width="13.3" height="13" fill="#d1e5f0"/><rect x="26.6" width="13.3" height="13" fill="#d1e5f0"/><rect class="bd" width="39.9" height="13"/></g>
<g class="hm" transform="translate(75,517)"><rect width="13.3" height="13" fill="#2b7bba"/><rect x="13.3" width="13.3" height="13" fill="#c6dbef"/><rect x="26.6" width="13.3" height="13" fill="#9ecae1"/><rect class="bd" width="39.9" height="13"/></g></g>
<g id="an-thrvalile"><rect class="gb" x="121" y="554" width="21" height="38"/><text class="t" x="131.5" y="565.5">thr</text><text class="t" x="131.5" y="576.5">val</text><text class="t" x="131.5" y="588">ile</text>
<g class="hm" transform="translate(84,554)"><rect width="12.3" height="12.7" fill="#f9c0a4"/><rect x="12.3" width="12.3" height="12.7" fill="#f9c0a4"/><rect x="24.6" width="12.3" height="12.7" fill="#f9c0a4"/><rect class="bd" width="36.9" height="12.7"/><text class="st" x="18.45" y="11.35">*</text></g>
<g class="hm" transform="translate(84,566.7)"><rect width="12.3" height="12.7" fill="#fbe3d6"/><rect x="12.3" width="12.3" height="12.7" fill="#fbe0d0"/><rect x="24.6" width="12.3" height="12.7" fill="#fbe3d6"/><rect class="bd" width="36.9" height="12.7"/></g>
<g class="hm" transform="translate(84,579.4)"><rect width="12.3" height="12.7" fill="#dde6ee"/><rect x="12.3" width="12.3" height="12.7" fill="#dde6ee"/><rect x="24.6" width="12.3" height="12.7" fill="#c6dbef"/><rect class="bd" width="36.9" height="12.7"/></g></g>
</g>

<g id="legend">
<rect x="875" y="627" width="72" height="4.5" fill="url(#cb)"/>
<text class="lg" x="878" y="640">0</text><text class="lg" x="901" y="640">5</text><text class="lg" x="923" y="640">10</text><text class="lg" x="943" y="640">15</text>
<rect x="957" y="626" width="12.7" height="12" fill="#fff" stroke="#7a7a7a"/><rect x="969.7" y="626" width="12.7" height="12" fill="#fff" stroke="#7a7a7a"/><rect x="982.4" y="626" width="12.7" height="12" fill="#fff" stroke="#7a7a7a"/>
<text class="lg2" transform="translate(965,643) rotate(-55)">lactose</text>
<text class="lg2" transform="translate(977,643) rotate(-55)">CMC</text>
<text class="lg2" transform="translate(990,643) rotate(-55)">glucose</text>
</g>
</svg>
